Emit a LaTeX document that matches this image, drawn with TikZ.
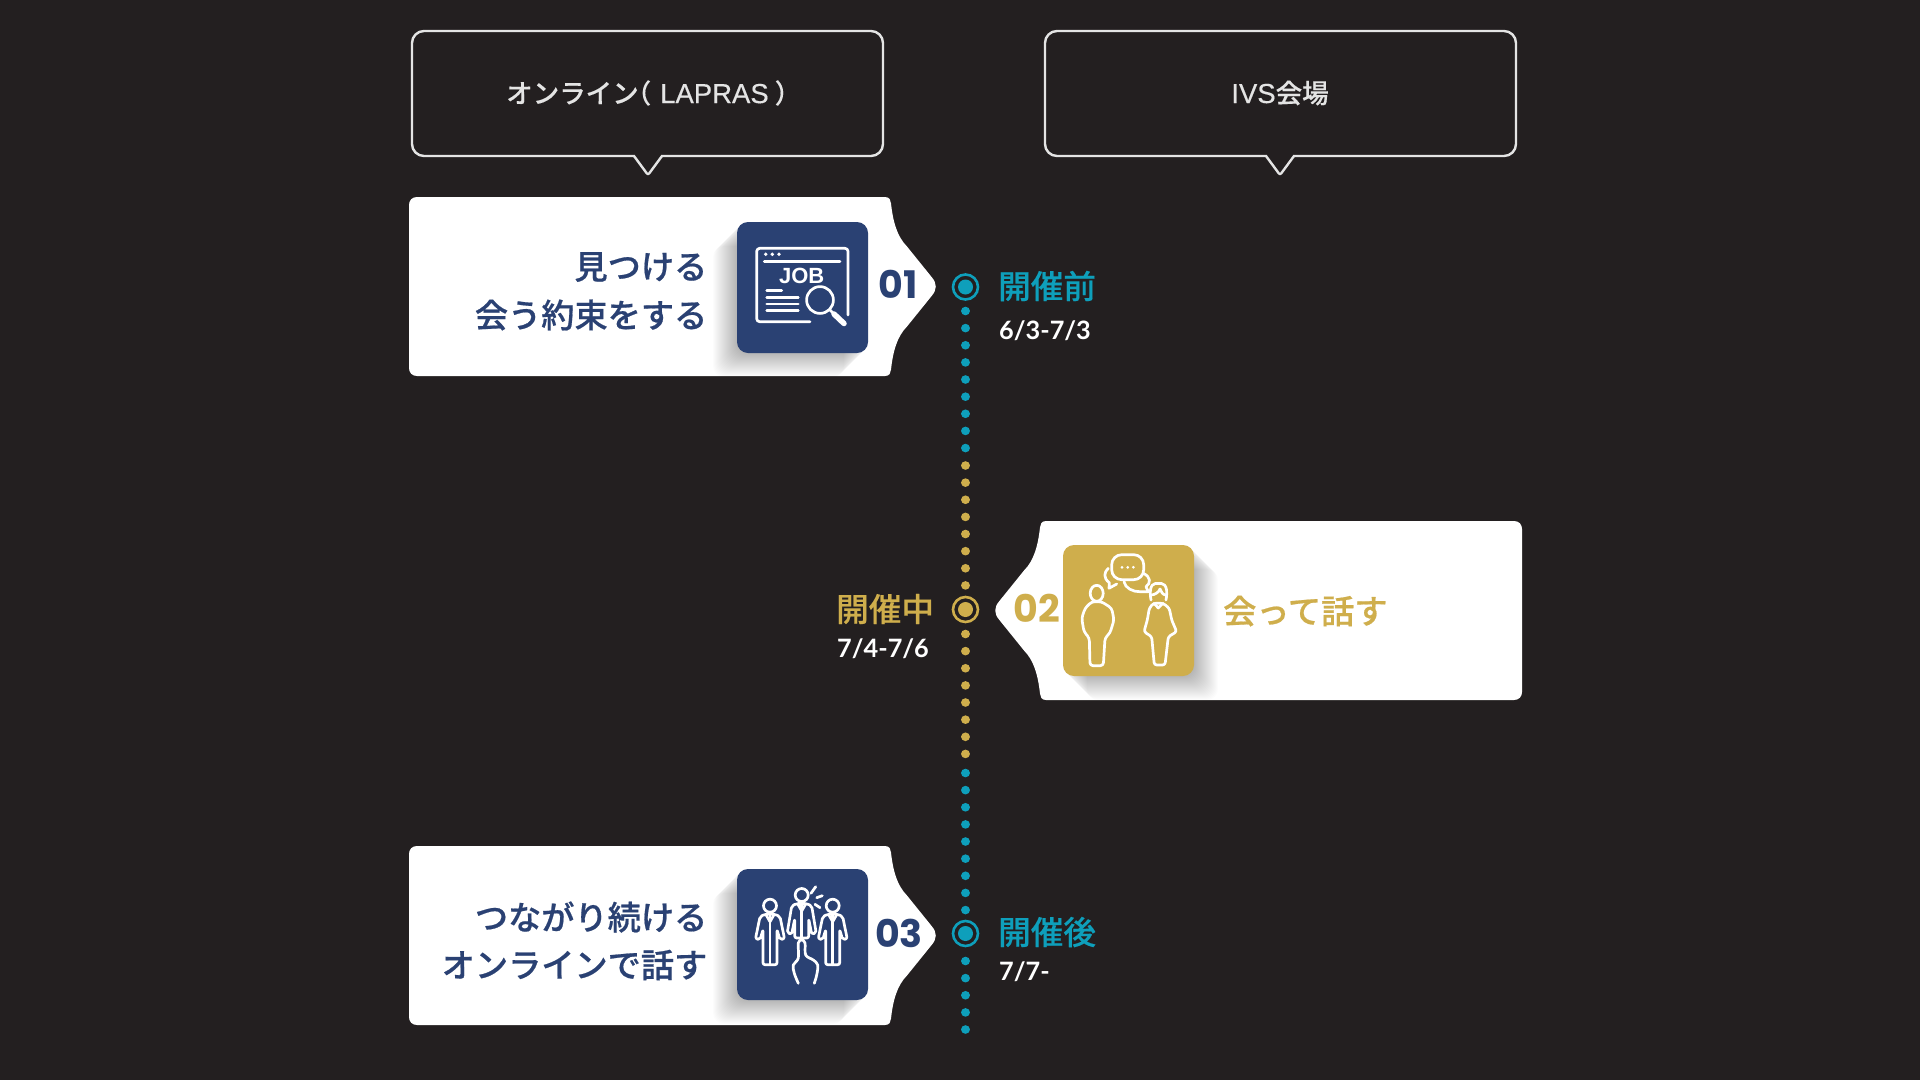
\documentclass[tikz,border=0pt]{standalone}
\usepackage{fontspec}
\setmainfont{Noto Sans CJK JP}[UprightFont=* Medium,BoldFont=* Bold]
\newfontfamily\jpheavy{Noto Sans CJK JP}[UprightFont=* Medium,FakeBold=0.55]
\newfontfamily\jpsemi{Noto Sans CJK JP}[UprightFont=* Medium,FakeBold=0.3]
\newfontfamily\numfont{Poppins}
\newfontfamily\datefont{Lato}
\newfontfamily\latfont{Liberation Sans}[FakeBold=0.35]
\newfontfamily\jobfont{Liberation Sans}
\definecolor{bgc}{HTML}{231F20}
\definecolor{navyc}{HTML}{2A4173}
\definecolor{goldc}{HTML}{CFAE4C}
\definecolor{tealc}{HTML}{0E9FBB}
\definecolor{framec}{HTML}{E4E4E4}
\newcommand{\fs}[1]{\fontsize{#1}{#1}\selectfont}
\newcommand{\cardoutline}{
  (-474,-89.5) -- (-6,-89.5) .. controls (-1,-89.5) and (-0.5,-86) .. (0,-83)
  .. controls (2,-65) and (6,-50) .. (16,-40) -- (41,-9)
  .. controls (46,-3) and (46,3) .. (41,9) -- (16,40)
  .. controls (6,50) and (2,65) .. (0,83) .. controls (-0.5,86) and (-1,89.5) .. (-6,89.5)
  -- (-474,89.5) .. controls (-479,89.5) and (-482,86) .. (-482,81.5)
  -- (-482,-81.5) .. controls (-482,-86) and (-479,-89.5) .. (-474,-89.5) -- cycle}
\newcommand{\iconbox}[4]{% x,y,color,shadow dir
  \foreach \i in {1,...,24}{
    \fill[black,opacity=0.011,rounded corners=11pt] ({#1+#4*\i},{#2+\i}) rectangle ++(131,131);
  }
  \fill[#3,rounded corners=11pt] (#1,#2) rectangle ++(131,131);
}
\newcommand{\suit}[4]{% head x, head y, leg end, sleeve end
  \begin{scope}[shift={(#1,#2)}]
    \draw[iconline] (0,0) circle (6.5);
    \draw[iconline,rounded corners=2pt] (-5,8.5) -- (5,8.5) -- (10,11) -- (14.5,#4) -- (10,#4+1) -- (7,24) -- (7,#3) -- (-7,#3) -- (-7,24) -- (-10,#4+1) -- (-14.5,#4) -- (-10,11) -- cycle;
    \draw[iconline] (0,9) -- (0,#3);
    \draw[iconline] (-4,9) -- (0,16) -- (4,9);
  \end{scope}
}
\tikzset{
  iconline/.style={draw=white,line width=2.7pt,line cap=round,line join=round},
  bubblebox/.style={draw=framec,line width=2.4pt,line join=round},
  dotrun/.style={line width=8.6pt,line cap=round,dash pattern=on 0.01pt off 17.12pt},
  ringout/.style={circle,draw=#1,line width=2.6pt,fill=bgc,minimum size=25pt,inner sep=0pt},
  ringin/.style={circle,fill=#1,minimum size=15pt,inner sep=0pt},
  cardtext/.style={font=\jpheavy\fs{33.2},text=#1,inner sep=0pt,anchor=east},
  headtext/.style={font=\jpsemi\fs{26.5},text=framec,inner sep=0pt},
  phasetext/.style={font=\jpsemi\fs{32.6},text=#1,inner sep=0pt,anchor=west},
  datetext/.style={font=\datefont\fs{25.3}\bfseries,text=white,inner sep=0pt,anchor=west},
  numtext/.style={font=\numfont\fs{38}\bfseries,text=#1,inner sep=0pt},
}
\begin{document}
\begin{tikzpicture}[x=1pt,y=-1pt]
\useasboundingbox (0,0) rectangle (1920,1079.7);
\fill[bgc] (-5,-5) rectangle (1925,1085);

% speech bubbles
\foreach \l/\r/\m in {412/883/648, 1045/1516/1280}{
  \draw[bubblebox,rounded corners=12pt] (\l,31) -- (\r,31) -- (\r,156) -- (\l,156) -- cycle;
  \fill[bgc] ({\m-13},154) rectangle ({\m+13},158);
  \draw[bubblebox,rounded corners=2pt] ({\m-14},156) -- (\m,175) -- ({\m+14},156);
}
\node[headtext,anchor=west] (h1) at (506,93) {オンライン\kern-14pt（\kern9pt{\latfont\fs{27.5}LAPRAS}\kern6pt）};
\node[headtext] (h2) at (1280,93) {{\latfont\fs{27.5}IVS}会場};

% cards
\begin{scope}[shift={(891,286.5)}] \fill[white] \cardoutline; \end{scope}
\begin{scope}[shift={(1040,610.5)},xscale=-1] \fill[white] \cardoutline; \end{scope}
\begin{scope}[shift={(891,935.5)}] \fill[white] \cardoutline; \end{scope}

% icon squares
\iconbox{737}{222}{navyc}{-1}
\iconbox{1063}{545}{goldc}{1}
\iconbox{737}{869}{navyc}{-1}

% icon 1: job window
\begin{scope}[shift={(737,222)}]
  \draw[iconline,rounded corners=3pt] (111,93) -- (111,26.3) -- (19.7,26.3) -- (19.7,99.7) -- (73,99.7);
  \draw[iconline] (27.3,39.7) -- (103,39.7);
  \foreach \x in {28.7,35.3,42} \fill[white] (\x,32.3) circle (1.9);
  \node[font=\jobfont\fs{22}\bfseries,text=white,inner sep=0pt] (jobword) at (64.7,54) {JOB};
  \draw[iconline] (29.7,68.7) -- (44.7,68.7);
  \foreach \y in {75.3,82,88.7} \draw[iconline] (29.7,\y) -- (61.3,\y);
  \draw[iconline] (83,78) circle (13.4);
  \draw[iconline] (92.5,87.5) -- (96,91);
  \draw[white,line width=5.5pt,line cap=round] (97,92) -- (107,101.5);
\end{scope}

% icon 2: two people talking
\begin{scope}[shift={(1063,545)}]
  \draw[iconline,rounded corners=10pt] (48.7,9.7) rectangle (80.7,34.7);
  \foreach \x in {59,64.7,70.4} \fill[white] (\x,22.3) circle (1.5);
  \draw[iconline] (45.3,23.3) .. controls (41,27) and (40,33) .. (46.3,37.7) -- (46,43.3) -- (53.7,39);
  \draw[iconline] (61,36.7) .. controls (62,43) and (70,47) .. (77,46.7) -- (85.3,46.7) -- (83,41.7) .. controls (88,38) and (88,32) .. (80.3,28.3);
  \draw[iconline] (33.7,48.3) ellipse (6.5 and 8);
  \draw[iconline,rounded corners=3pt] (28.7,56.7) -- (38.7,56.7) -- (48.7,63.3) -- (51,75) -- (47,88) -- (42,93) -- (40.3,120.7) -- (27,120.7) -- (26.3,93) -- (21,86.7) -- (18.7,73.3) -- (22,63.3) -- cycle;
  \draw[iconline] (88,55) .. controls (85,38) and (92,38) .. (95.3,38.5) .. controls (99,38) and (106,38) .. (103,55);
  \draw[iconline] (88,50) .. controls (92,50) and (96,47) .. (97,44) .. controls (98,47) and (100,50) .. (103,50);
  \draw[iconline,rounded corners=2.5pt] (90.3,58.3) -- (100.3,58.3) -- (106.3,63.3) -- (108.7,75) -- (113.7,86.7) -- (105.3,91.7) -- (102,120) -- (91.3,120) -- (88.7,91.7) -- (81,86.7) -- (84.3,75) -- (86.3,63.3) -- cycle;
  \draw[iconline] (91,58.3) -- (95.3,63) -- (100,58.3);
\end{scope}

% icon 3: three people and a pointing hand
\begin{scope}[shift={(737,869)}]
  \suit{33}{36.7}{59}{33}
  \suit{95.7}{36.7}{59}{33}
  \suit{64.7}{26}{43}{38}
  \draw[iconline] (74,24.3) -- (78.7,17.7);
  \draw[iconline] (79.7,28.7) -- (85.3,26.7);
  \draw[iconline] (78,35.3) -- (83,38.7);
  \draw[iconline,smooth,tension=0.6] plot coordinates {(61.3,114.3) (57.3,104.3) (56.3,96) (61.3,89) (61.3,74) (64.7,71) (68,74) (68.7,86) (76.3,91) (80.7,96) (79.7,106) (77.3,114.3)};
\end{scope}

% card labels
\node[cardtext=navyc] (t1a) at (707.5,267) {見つける};
\node[cardtext=navyc] (t1b) at (707.5,315) {会う約束をする};
\node[cardtext=goldc,anchor=west] (t2) at (1223,611) {会って話す};
\node[cardtext=navyc] (t3a) at (707.5,917) {つながり続ける};
\node[cardtext=navyc] (t3b) at (707.5,965) {オンラインで話す};
\node[numtext=navyc] (n1) at (898,284) {01};
\node[numtext=goldc] (n2) at (1037,608) {02};
\node[numtext=navyc] (n3) at (899,933) {03};

% timeline
\coordinate (a0) at (965.5,311);   \coordinate (a1) at (965.5,450);
\coordinate (b0) at (965.5,465.5); \coordinate (b1) at (965.5,587);
\coordinate (c0) at (965.5,634);   \coordinate (c1) at (965.5,755);
\coordinate (d0) at (965.5,773);   \coordinate (d1) at (965.5,912);
\coordinate (e0) at (965.5,961);   \coordinate (e1) at (965.5,1032);
\draw[dotrun,tealc] (a0) -- (a1);
\draw[dotrun,goldc] (b0) -- (b1);
\draw[dotrun,goldc] (c0) -- (c1);
\draw[dotrun,tealc] (d0) -- (d1);
\draw[dotrun,tealc] (e0) -- (e1);
\node[ringout=tealc] (r1) at (965.5,287) {};
\node[ringin=tealc] at (r1.center) {};
\node[ringout=goldc] (r2) at (965.5,609.5) {};
\node[ringin=goldc] at (r2.center) {};
\node[ringout=tealc] (r3) at (965.5,933.5) {};
\node[ringin=tealc] at (r3.center) {};

% phases
\node[phasetext=tealc] (p1) at (998,286) {開催前};
\node[datetext] (d1t) at (999,331) {6/3-7/3};
\node[phasetext=goldc] (p2) at (836,609) {開催中};
\node[datetext] (d2t) at (837,649) {7/4-7/6};
\node[phasetext=tealc] (p3) at (998,932) {開催後};
\node[datetext] (d3t) at (999,972) {7/7-};
\end{tikzpicture}
\end{document}
